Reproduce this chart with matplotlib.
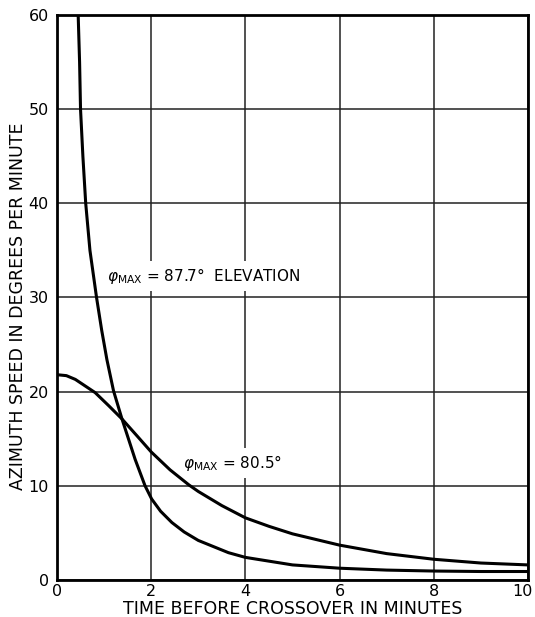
import numpy as np
import matplotlib
matplotlib.use('Agg')
import matplotlib.pyplot as plt
import matplotlib.transforms as mtrans

# phi_max = 87.7 deg curve (the steep one)
t_877 = [0.45, 0.48, 0.50, 0.55, 0.61, 0.70, 0.84, 0.95, 1.06, 1.20, 1.38,
         1.66, 1.87, 2.01, 2.2, 2.44, 2.7, 3.0, 3.64, 4.0, 5.0, 6.0, 7.0,
         8.0, 9.0, 10.0]
v_877 = [60, 55, 50, 45, 40, 35, 30, 26.5, 23.4, 20.1, 17.1,
         12.8, 10.0, 8.6, 7.3, 6.1, 5.1, 4.2, 2.9, 2.4, 1.6, 1.25, 1.05,
         0.95, 0.9, 0.9]

# phi_max = 80.5 deg curve
t_805 = [0.0, 0.2, 0.39, 0.81, 1.1, 1.38, 1.7, 2.0, 2.4, 2.8, 3.0, 3.5,
         4.0, 4.5, 5.0, 6.0, 7.0, 8.0, 9.0, 10.0]
v_805 = [21.8, 21.7, 21.3, 19.9, 18.5, 17.1, 15.3, 13.6, 11.7, 10.1, 9.4, 7.9,
         6.6, 5.7, 4.9, 3.7, 2.8, 2.2, 1.8, 1.6]

x_ticks = [0, 2, 4, 6, 8, 10]
y_ticks = [0, 10, 20, 30, 40, 50, 60]

plt.rcParams['mathtext.fontset'] = 'dejavusans'

fig = plt.figure(figsize=(5.35, 6.17), dpi=100)
ax = fig.add_axes([0.1065, 0.060, 0.8804, 0.9157])

ax.plot(t_877, v_877, color='black', lw=2.2, solid_joinstyle='round', zorder=3)
ax.plot(t_805, v_805, color='black', lw=2.2, solid_joinstyle='round', zorder=3)

ax.set_xlim(0, 10)
ax.set_ylim(0, 60)
ax.set_xticks(x_ticks)
ax.set_yticks(y_ticks)
ax.grid(True, color='#222222', lw=1.1)
ax.tick_params(axis='both', length=0, labelsize=11.5)
ax.tick_params(axis='y', pad=6)
ax.tick_params(axis='x', pad=3)
for s in ax.spines.values():
    s.set_linewidth(2.0)

# last x tick label sits a bit left so it stays inside the picture
lab = ax.get_xticklabels()[-1]
lab.set_transform(lab.get_transform() +
                  mtrans.ScaledTranslation(-4 / 72, 0, fig.dpi_scale_trans))

ax.set_xlabel("TIME BEFORE CROSSOVER IN MINUTES", fontsize=12.5)
ax.xaxis.set_label_coords(0.5, -0.036)
ax.set_ylabel("AZIMUTH SPEED IN DEGREES PER MINUTE", fontsize=12.5)
ax.yaxis.set_label_coords(-0.064, 0.485)

# white boxes hide the grid behind the labels, curves stay on top
box = dict(facecolor='white', edgecolor='none', pad=3.5)
ax.text(1.06, 32.3, r"$\varphi_{\mathrm{MAX}}$ = 87.7°  ELEVATION", fontsize=11,
        ha='left', va='center', bbox=box, zorder=2.5)
ax.text(2.68, 12.4, r"$\varphi_{\mathrm{MAX}}$ = 80.5°", fontsize=11,
        ha='left', va='center', bbox=box, zorder=2.5)

plt.savefig('out.png', dpi=100)
